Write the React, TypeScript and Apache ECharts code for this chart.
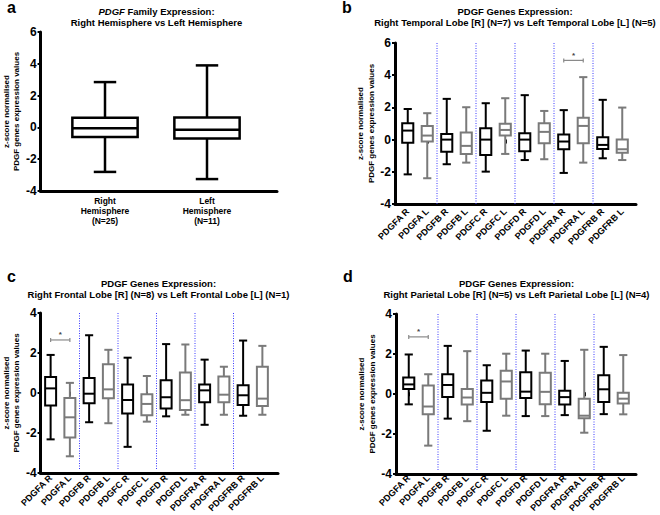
import React, { useEffect, useRef } from "react";
import * as echarts from "echarts";

const FONT = "'Liberation Sans', Arial, Helvetica, sans-serif";

const geneCategories = [
  "PDGFA R", "PDGFA L", "PDGFB R", "PDGFB L", "PDGFC R", "PDGFC L",
  "PDGFD R", "PDGFD L", "PDGFRA R", "PDGFRA L", "PDGFRB R", "PDGFRB L",
];
const hemisphereCategories = ["Right\nHemisphere\n(N=25)", "Left\nHemisphere\n(N=11)"];

// [min, Q1, median, Q3, max]
const hemisphereBoxes = [
  [-2.8, -0.6, -0.05, 0.6, 2.85],
  [-3.25, -0.7, -0.15, 0.62, 3.9],
];
const temporalBoxes = [
  [-2.16, -0.19, 0.56, 1.02, 1.9],
  [-2.4, -0.12, 0.25, 0.85, 1.64],
  [-1.53, -0.75, 0, 0.35, 2.53],
  [-1.43, -0.89, -0.39, 0.44, 2.01],
  [-1.99, -0.95, 0, 0.7, 2.26],
  [-0.89, 0.25, 0.6, 0.98, 2.57],
  [-1.27, -0.73, 0, 0.39, 2.76],
  [-1.22, -0.23, 0.48, 1.02, 1.78],
  [-2.07, -0.6, -0.12, 0.31, 1.83],
  [-1.43, -0.23, 0.85, 1.35, 3.88],
  [-1.16, -0.58, -0.33, 0.15, 2.47],
  [-1.27, -0.81, -0.6, 0, 1.99],
];
const frontalBoxes = [
  [-2.42, -0.7, 0.17, 0.75, 1.87],
  [-3.28, -2.33, -1.3, -0.32, 0.45],
  [-1.55, -0.58, -0.1, 0.7, 2.87],
  [-1.6, -0.33, 0.12, 1.4, 2.13],
  [-2.8, -1.1, -0.42, 0.37, 1.73],
  [-1.52, -1.2, -0.62, -0.13, 0.8],
  [-1.25, -0.85, -0.28, 0.58, 2.42],
  [-1.17, -0.93, -0.43, 0.98, 2.4],
  [-1.68, -0.53, 0.07, 0.37, 1.63],
  [-1.17, -0.53, -0.15, 0.78, 1.27],
  [-1.22, -0.67, -0.18, 0.33, 2.6],
  [-1.17, -0.73, -0.35, 1.27, 2.33],
];
const parietalBoxes = [
  [-0.62, 0.17, 0.4, 0.75, 1.93],
  [-2.73, -1.13, -0.73, 0.35, 0.92],
  [-1.35, -0.25, 0.37, 0.92, 2.37],
  [-1.48, -0.63, -0.27, 0.17, 2.1],
  [-1.97, -0.5, -0.03, 0.6, 1.38],
  [-1.2, -0.33, 0.55, 1.1, 1.97],
  [-1.22, -0.3, 0.03, 1.02, 2.13],
  [-1.22, -0.62, 0.02, 1.0, 1.97],
  [-1.17, -0.63, -0.25, 0.08, 1.6],
  [-2.07, -1.33, -1.2, -0.33, 2.17],
  [-1.12, -0.5, 0.15, 0.87, 2.32],
  [-1.13, -0.58, -0.33, -0.03, 1.9],
];

// y-axis ranges [min, max] per panel
const yRanges = [[-4, 6], [-4, 6], [-4, 4], [-4, 4]];
const yInterval = 2;

// significance brackets: [panel, fromIndex, toIndex, yValue]
const significance = [
  [1, 8, 9, 4.92],
  [2, 0, 1, 2.63],
  [3, 0, 1, 2.83],
];

const panelLetters = ["a", "b", "c", "d"];
const titleLine1 = ["{i|PDGF} Family Expression:", "PDGF Genes Expression:", "PDGF Genes Expression:", "PDGF Genes Expression:"];
const titleLine2 = [
  "Right Hemisphere vs Left Hemisphere",
  "Right Temporal Lobe [R] (N=7) vs Left Temporal Lobe [L] (N=5)",
  "Right Frontal Lobe [R] (N=8) vs Left Frontal Lobe [L] (N=1)",
  "Right Parietal Lobe [R] (N=5) vs Left Parietal Lobe [L] (N=4)",
];
const yAxisName = "z-score normalised\nPDGF genes expression values";

// layout (styles/positions)
const frames = [
  { left: 38, top: 32, width: 239, height: 159 },
  { left: 395, top: 43, width: 241, height: 161 },
  { left: 39, top: 313, width: 239, height: 160 },
  { left: 396, top: 314, width: 240, height: 160 },
];
const inner = [
  { left: 54, width: 204 },
  { left: 398, width: 234 },
  { left: 41, width: 231 },
  { left: 399, width: 234 },
];
const nameGaps = [16, 10, 18, 12];
const boxRatio = [0.64, 0.57, 0.57, 0.57];
const capRatio = [0.22, 0.42, 0.42, 0.42];
const lineW = [2.5, 2, 2, 2];
const titleCenters = [[156.5, 6], [515, 6], [158.5, 277.5], [516.5, 277.5]];
const letterPos = [[7, 7.5], [342, 7.5], [7, 276.5], [343, 276.5]];
const alternateColors = [false, true, true, true];

const BLACK = "#000000";
const GRAY = "#7a7a7a";

export default function App() {
  const ref = useRef<HTMLDivElement>(null);
  useEffect(() => {
    if (!ref.current) return;
    const chart = echarts.init(ref.current, null, { renderer: "svg" });
    const allBoxes = [hemisphereBoxes, temporalBoxes, frontalBoxes, parietalBoxes];
    const cats = [hemisphereCategories, geneCategories, geneCategories, geneCategories];

    const grid: any[] = [];
    const xAxis: any[] = [];
    const yAxis: any[] = [];
    const series: any[] = [];

    frames.forEach((f) => {
      grid.push({ left: f.left, top: f.top, width: f.width, height: f.height });
    });
    frames.forEach((f, p) => {
      grid.push({ left: inner[p].left, top: f.top, width: inner[p].width, height: f.height });
    });
    frames.forEach((f, p) => {
      xAxis.push({
        type: "value", gridIndex: p, min: 0, max: 1,
        axisLine: { show: true, onZero: false, lineStyle: { color: BLACK, width: 3 } },
        axisTick: { show: false }, axisLabel: { show: false }, splitLine: { show: false },
      });
      yAxis.push({
        type: "value", gridIndex: p, min: yRanges[p][0], max: yRanges[p][1], interval: yInterval,
        axisLine: { show: true, onZero: false, lineStyle: { color: BLACK, width: 3 } },
        axisTick: { show: true, length: 3, lineStyle: { color: BLACK, width: 2 } },
        axisLabel: { color: BLACK, fontWeight: "bold", fontSize: 12, fontFamily: FONT, margin: 4 },
        splitLine: { show: false },
        name: yAxisName, nameLocation: "middle", nameRotate: 90, nameGap: nameGaps[p],
        nameTextStyle: { color: BLACK, fontWeight: "bold", fontSize: 8, lineHeight: 10.5, fontFamily: FONT },
      });
    });
    frames.forEach((f, p) => {
      xAxis.push({
        type: "category", gridIndex: 4 + p, data: cats[p],
        axisLine: { show: false },
        axisTick: { show: true, alignWithLabel: true, length: 4, lineStyle: { color: BLACK, width: 2 } },
        axisLabel: p === 0
          ? { color: BLACK, fontWeight: "bold", fontSize: 8.5, lineHeight: 9.8, fontFamily: FONT, margin: 5, interval: 0 }
          : { color: BLACK, fontWeight: "bold", fontSize: 9, fontFamily: FONT, margin: 6, interval: 0, rotate: 45 },
        splitLine: { show: false },
      });
      yAxis.push({
        type: "value", gridIndex: 4 + p, min: yRanges[p][0], max: yRanges[p][1], interval: yInterval, show: false,
      });
    });

    allBoxes.forEach((boxes, p) => {
      const n = boxes.length;
      series.push({
        type: "custom",
        xAxisIndex: 4 + p,
        yAxisIndex: 4 + p,
        data: boxes.map((b, i) => [i, ...b]),
        encode: { x: 0, y: [1, 2, 3, 4, 5] },
        renderItem: (params: any, api: any) => {
          const idx = api.value(0);
          const band = api.size([1, 0])[0];
          const cx = api.coord([idx, 0])[0];
          const yMin = api.coord([idx, api.value(1)])[1];
          const yQ1 = api.coord([idx, api.value(2)])[1];
          const yMed = api.coord([idx, api.value(3)])[1];
          const yQ3 = api.coord([idx, api.value(4)])[1];
          const yMax = api.coord([idx, api.value(5)])[1];
          const hb = (band * boxRatio[p]) / 2;
          const hc = (band * capRatio[p]) / 2;
          const color = alternateColors[p] && idx % 2 === 1 ? GRAY : BLACK;
          const lw = lineW[p];
          const st = { stroke: color, lineWidth: lw, fill: "none" };
          const children: any[] = [
            { type: "line", shape: { x1: cx, y1: yQ3, x2: cx, y2: yMax }, style: st },
            { type: "line", shape: { x1: cx, y1: yQ1, x2: cx, y2: yMin }, style: st },
            { type: "line", shape: { x1: cx - hc, y1: yMax, x2: cx + hc, y2: yMax }, style: st },
            { type: "line", shape: { x1: cx - hc, y1: yMin, x2: cx + hc, y2: yMin }, style: st },
            { type: "rect", shape: { x: cx - hb, y: yQ3, width: 2 * hb, height: yQ1 - yQ3 }, style: { stroke: color, lineWidth: lw, fill: "#ffffff" } },
            { type: "line", shape: { x1: cx - hb, y1: yMed, x2: cx + hb, y2: yMed }, style: st },
          ];
          if (p > 0 && idx % 2 === 1 && idx < n - 1) {
            const cs = params.coordSys;
            const dx = cx + band / 2;
            children.push({
              type: "line",
              shape: { x1: dx, y1: cs.y, x2: dx, y2: cs.y + cs.height },
              style: { stroke: "#3a3aff", lineWidth: 1, lineDash: [1, 1.5] },
            });
          }
          return { type: "group", children };
        },
      });
    });

    significance.forEach((s) => {
      const p = s[0];
      series.push({
        type: "custom",
        xAxisIndex: 4 + p,
        yAxisIndex: 4 + p,
        data: [[s[1], s[2], s[3]]],
        encode: { x: [0, 1], y: 2 },
        renderItem: (params: any, api: any) => {
          const a = api.coord([api.value(0), api.value(2)]);
          const b = api.coord([api.value(1), api.value(2)]);
          const st = { stroke: "#8a8a8a", lineWidth: 1.2, fill: "none" };
          return {
            type: "group",
            children: [
              { type: "line", shape: { x1: a[0], y1: a[1], x2: b[0], y2: b[1] }, style: st },
              { type: "line", shape: { x1: a[0], y1: a[1] - 2, x2: a[0], y2: a[1] + 2 }, style: st },
              { type: "line", shape: { x1: b[0], y1: b[1] - 2, x2: b[0], y2: b[1] + 2 }, style: st },
              {
                type: "text", x: (a[0] + b[0]) / 2, y: a[1] - 1,
                style: { text: "*", align: "center", verticalAlign: "bottom", fill: "#444", font: `bold 8px ${FONT}` },
              },
            ],
          };
        },
      });
    });

    const graphic: any[] = [];
    panelLetters.forEach((l, p) => {
      graphic.push({
        type: "text", x: letterPos[p][0], y: letterPos[p][1],
        style: { text: l, align: "left", verticalAlign: "middle", fill: BLACK, font: `bold 16px ${FONT}` },
      });
      graphic.push({
        type: "text", x: titleCenters[p][0], y: titleCenters[p][1],
        style: {
          text: titleLine1[p] + "\n" + titleLine2[p],
          align: "center", verticalAlign: "top", fill: BLACK,
          fontFamily: FONT, fontWeight: "bold", fontSize: 9.5, lineHeight: 11,
          rich: { i: { fontStyle: "italic", fontWeight: "bold", fontFamily: FONT, fontSize: 9.5, lineHeight: 11 } },
        },
      });
    });

    chart.setOption({
      animation: false,
      backgroundColor: "#ffffff",
      grid, xAxis, yAxis, series, graphic,
    });
    return () => chart.dispose();
  }, []);
  return <div ref={ref} style={{ position: "fixed", left: 0, top: 0, width: 660, height: 515 }} />;
}
